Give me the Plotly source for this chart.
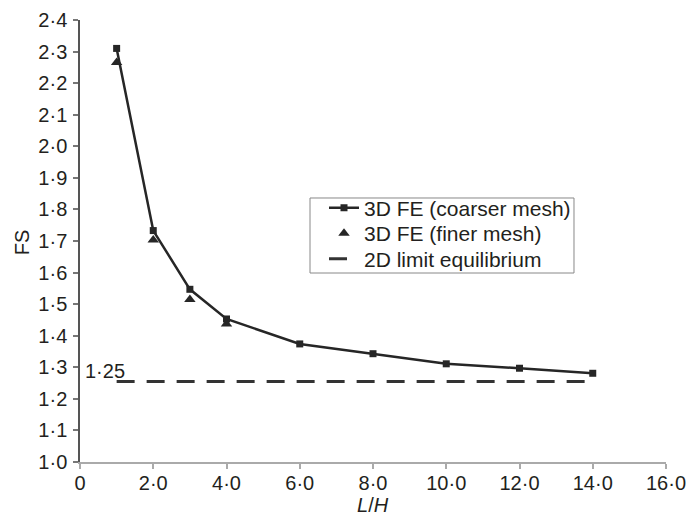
import plotly.graph_objects as go

# Data
lh_coarse = [1, 2, 3, 4, 6, 8, 10, 12, 14]
fs_coarse = [2.310, 1.733, 1.547, 1.453, 1.374, 1.343, 1.311, 1.297, 1.281]
lh_fine = [1, 2, 3, 4]
fs_fine = [2.265, 1.703, 1.515, 1.437]
lh_2d = [1, 14]
fs_2d = [1.255, 1.255]

x_ticks = [0, 2, 4, 6, 8, 10, 12, 14, 16]
x_ticktext = ["0", "2·0", "4·0", "6·0", "8·0", "10·0", "12·0", "14·0", "16·0"]
y_ticks = [1.0, 1.1, 1.2, 1.3, 1.4, 1.5, 1.6, 1.7, 1.8, 1.9, 2.0, 2.1, 2.2, 2.3, 2.4]
y_ticktext = ["1·0", "1·1", "1·2", "1·3", "1·4", "1·5", "1·6", "1·7", "1·8", "1·9",
              "2·0", "2·1", "2·2", "2·3", "2·4"]

FONT = "Liberation Sans, Arial, sans-serif"
TXT = "#231f20"

fig = go.Figure()
fig.add_trace(go.Scatter(
    x=lh_coarse, y=fs_coarse, mode="lines+markers",
    name="3D FE (coarser mesh)", legend="legend",
    line=dict(color="#262626", width=2.5),
    marker=dict(symbol="square", size=7, color="#262626"),
))
fig.add_trace(go.Scatter(
    x=lh_fine, y=fs_fine, mode="markers",
    name="3D FE (finer mesh)", legend="legend2",
    marker=dict(symbol="triangle-up", size=10, color="#262626"),
))
fig.add_trace(go.Scatter(
    x=lh_2d, y=fs_2d, mode="lines",
    name="2D limit equilibrium", legend="legend3",
    line=dict(color="#333333", width=3, dash="18px,12px"),
))

fig.add_annotation(x=0.08, y=1.289, xref="x", yref="y", text="1·25",
                   showarrow=False, xanchor="left", yanchor="middle",
                   font=dict(family=FONT, size=20, color=TXT))
# axis titles
fig.add_annotation(x=0.5, y=-0.0973, xref="paper", yref="paper", text="<i>L</i>/<i>H</i>",
                   showarrow=False, xanchor="center", yanchor="middle",
                   font=dict(family=FONT, size=20, color=TXT))
fig.add_annotation(x=-0.1, y=0.498, xref="paper", yref="paper", text="FS",
                   showarrow=False, xanchor="center", yanchor="middle", textangle=-90,
                   font=dict(family=FONT, size=20, color=TXT))

# legend frame
fig.add_shape(type="rect", xref="paper", yref="paper",
              x0=0.3925, x1=0.843, y0=0.4276, y1=0.5973,
              line=dict(color="#888888", width=1), fillcolor="white", layer="below")

def leg(yc):
    return dict(
        x=0.3925, y=yc, xanchor="left", yanchor="middle",
        bgcolor="rgba(0,0,0,0)", borderwidth=0,
        font=dict(family=FONT, size=21, color=TXT),
        itemwidth=30, indentation=14,
    )

fig.update_layout(
    width=688, height=516,
    margin=dict(l=80, r=22, t=20, b=54, autoexpand=False),
    paper_bgcolor="white", plot_bgcolor="white",
    font=dict(family=FONT, size=20, color=TXT),
    showlegend=True,
    legend=leg(0.5747),
    legend2=leg(0.517),
    legend3=leg(0.4593),
    xaxis=dict(
        range=[0, 16], tickmode="array", tickvals=x_ticks, ticktext=x_ticktext,
        showgrid=False, zeroline=False, showline=True, linecolor="#aaaaaa", linewidth=2,
        ticks="outside", ticklen=5, tickcolor="#aaaaaa", tickwidth=1.5,
        automargin=False, ticklabelstandoff=-3,
    ),
    yaxis=dict(
        range=[1.0, 2.4], tickmode="array", tickvals=y_ticks, ticktext=y_ticktext,
        showgrid=False, zeroline=False, showline=True, linecolor="#555555", linewidth=1.5,
        ticks="outside", ticklen=5, tickcolor="#777777", tickwidth=1.5,
        automargin=False, ticklabelstandoff=2,
    ),
)

fig.write_html("out.html")
